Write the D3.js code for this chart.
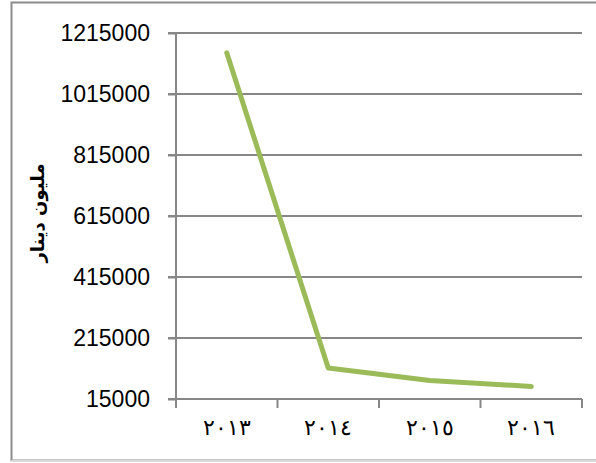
<!DOCTYPE html>
<html>
<head>
<meta charset="utf-8">
<script src="https://cdn.jsdelivr.net/npm/d3@7/dist/d3.min.js"></script>
<style>
  body { margin: 0; background: #fff; }
  svg { display: block; }
</style>
</head>
<body>
<div id="chart"></div>
<script>
    'use strict';

    // data
    var years = ["٢٠١٣", "٢٠١٤", "٢٠١٥", "٢٠١٦"];
    var values = [1150000, 116500, 76000, 56000];
    var yTicks = [15000, 215000, 415000, 615000, 815000, 1015000, 1215000];
    var yTitle = "مليون دينار";

    var width = 596,
        height = 463;

    var svg = d3.select("#chart").append("svg")
        .attr("width", width)
        .attr("height", height);

    // outer frame
    svg.append("rect")
        .attr("x", 11.5).attr("y", 2.5)
        .attr("width", 600).attr("height", 458)
        .attr("fill", "none")
        .attr("stroke", "#8c8c8c")
        .attr("stroke-width", 2);
    svg.append("line")
        .attr("x1", 11).attr("x2", width)
        .attr("y1", 461).attr("y2", 461)
        .attr("stroke", "#d9d9d9").attr("stroke-width", 2);

    var plotLeft = 176, plotRight = 582, plotTop = 33, plotBottom = 399;

    var x = d3.scaleBand().domain(years).range([plotLeft, plotRight]);
    var y = d3.scaleLinear().domain([15000, 1215000]).range([plotBottom, plotTop]);

    // gridlines
    svg.append("g").selectAll("line")
        .data(yTicks)
        .enter().append("line")
        .attr("x1", plotLeft - 8).attr("x2", plotRight)
        .attr("y1", function(d) { return y(d); })
        .attr("y2", function(d) { return y(d); })
        .attr("stroke", "#878787")
        .attr("stroke-width", 2);

    // y axis
    var yAxis = svg.append("g")
        .attr("transform", "translate(" + plotLeft + ",0)")
        .call(d3.axisLeft(y).tickValues(yTicks).tickSize(8).tickPadding(18)
            .tickFormat(function(d) { return String(d); }));
    yAxis.select(".domain").attr("stroke", "#878787").attr("stroke-width", 2)
        .attr("d", "M0," + plotTop + "V" + (plotBottom + 8));
    yAxis.selectAll(".tick line").attr("stroke", "#878787").attr("stroke-width", 2);
    yAxis.selectAll("text")
        .attr("fill", "#000")
        .style("font-family", "'Liberation Sans', Arial, sans-serif")
        .style("font-size", "23px");

    // x axis
    var xAxis = svg.append("g")
        .attr("transform", "translate(0," + plotBottom + ")")
        .call(d3.axisBottom(x).tickSize(0).tickPadding(20));
    xAxis.select(".domain").attr("stroke", "#878787").attr("stroke-width", 2)
        .attr("d", "M" + (plotLeft - 8) + ",0H" + plotRight);
    xAxis.selectAll("text")
        .attr("fill", "#000")
        .attr("direction", "rtl")
        .style("font-family", "'DejaVu Serif', 'Noto Sans', serif")
        .style("font-size", "22px")
        .style("letter-spacing", "6px");

    // x tick marks at band edges
    var edges = years.map(function(d) { return x(d); }).concat([x.range()[1]]);
    svg.append("g").selectAll("line")
        .data(edges)
        .enter().append("line")
        .attr("x1", function(d) { return d; })
        .attr("x2", function(d) { return d; })
        .attr("y1", plotBottom).attr("y2", plotBottom + 9)
        .attr("stroke", "#878787")
        .attr("stroke-width", 2);

    // series line
    var line = d3.line()
        .x(function(d, i) { return x(years[i]) + x.bandwidth() / 2; })
        .y(function(d) { return y(d); });

    svg.append("path")
        .datum(values)
        .attr("d", line)
        .attr("fill", "none")
        .attr("stroke", "#9bbb59")
        .attr("stroke-width", 5)
        .attr("stroke-linecap", "round")
        .attr("stroke-linejoin", "round");

    // y title
    svg.append("text")
        .attr("transform", "translate(44,213) rotate(-90)")
        .attr("text-anchor", "middle")
        .attr("direction", "rtl")
        .style("font-family", "'DejaVu Sans', 'Noto Sans', sans-serif")
        .style("font-weight", "bold")
        .style("font-size", "18px")
        .text(yTitle);
</script>
</body>
</html>
